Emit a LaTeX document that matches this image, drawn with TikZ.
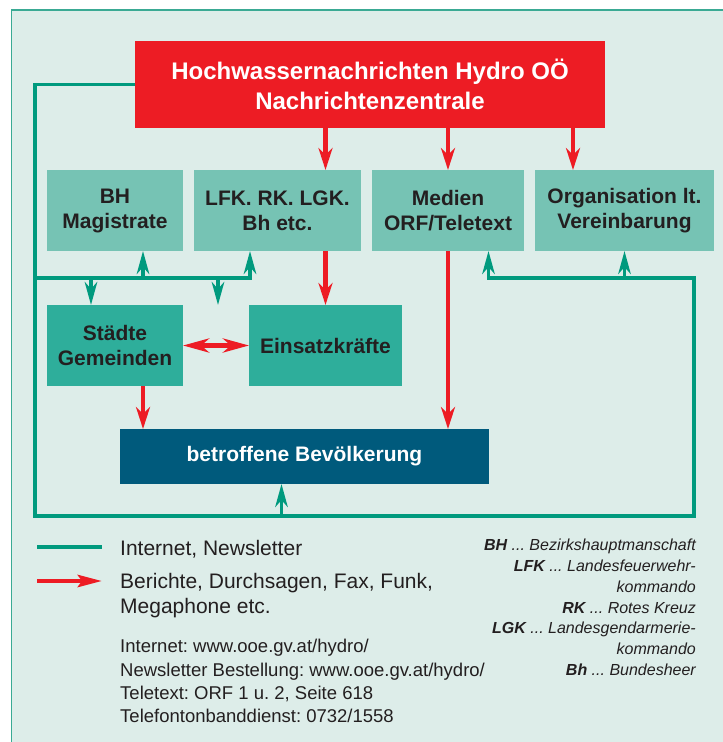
\documentclass[tikz,border=0pt]{standalone}
\usepackage{fontspec}
\setmainfont{Liberation Sans}
\usetikzlibrary{arrows.meta,calc}
\definecolor{bgc}{HTML}{DDEDE9}
\definecolor{framec}{HTML}{3AAA94}
\definecolor{lteal}{HTML}{76C3B4}
\definecolor{dteal}{HTML}{2EAE9B}
\definecolor{hqred}{HTML}{ED1C24}
\definecolor{popblue}{HTML}{005A7C}
\definecolor{glinec}{HTML}{009A7E}
\definecolor{txtc}{HTML}{231F20}
\frenchspacing
\begin{document}
\begin{tikzpicture}[x=1pt,y=-1pt,
  box/.style={draw=none,inner sep=0pt,outer sep=0pt,align=center,text=txtc,
    font=\bfseries\fontsize{21}{25}\selectfont},
  gln/.style={draw=glinec,line width=3.5pt},
  garr/.style={gln,-{Stealth[length=23pt,width=12.5pt,inset=7pt]}},
  rln/.style={draw=hqred,line width=4.5pt},
  rarr/.style={rln,-{Stealth[length=22pt,width=14pt,inset=7pt]}},
  rdbl/.style={rln,{Stealth[length=26pt,width=14pt,inset=8pt]}-{Stealth[length=26pt,width=14pt,inset=8pt]}},
  legtxt/.style={anchor=base west,inner sep=0pt,text=txtc,font=\fontsize{21}{25}\selectfont},
  urltxt/.style={anchor=base west,inner sep=0pt,text=txtc,font=\fontsize{18.5}{23}\selectfont},
  abbr/.style={anchor=base east,inner sep=0pt,text=txtc,font=\itshape\fontsize{16}{20}\selectfont}
]
\useasboundingbox (0,0) rectangle (723,742);
\clip (0,0) rectangle (723,742);
\fill[white] (0,0) rectangle (723,742);
\draw[fill=bgc,draw=framec,line width=1.4pt] (11.5,10) rectangle (780,800);

% boxes
\node[box,fill=hqred,text=white,font=\bfseries\fontsize{24}{30}\selectfont,
  minimum width=470pt,minimum height=87pt] (hq) at (370,84.5)
  {Hochwassernachrichten Hydro OÖ\\Nachrichtenzentrale};
\node[box,fill=lteal,minimum width=136pt,minimum height=81pt] (bh) at (115,210.5) {BH\\Magistrate};
\node[box,fill=lteal,minimum width=167pt,minimum height=81pt] (lfk) at (277.5,210.5) {LFK. RK. LGK.\\Bh etc.};
\node[box,fill=lteal,minimum width=152pt,minimum height=81pt] (med) at (448,210.5) {Medien\\ORF/Teletext};
\node[box,fill=lteal,minimum width=179pt,minimum height=81pt] (org) at (624.5,210.5) {Organisation lt.\\Vereinbarung};
\node[box,fill=dteal,minimum width=136pt,minimum height=81pt] (st) at (115,345.5) {Städte\\Gemeinden};
\node[box,fill=dteal,minimum width=153pt,minimum height=81pt] (ek) at (325.5,345.5) {Einsatzkräfte};
\node[box,fill=popblue,text=white,minimum width=369pt,minimum height=55pt] (pop) at (304.5,456.5) {betroffene Bevölkerung};

% coordinates for green network
\coordinate (busL) at (35,278);
\coordinate (busR) at (694,278);
\coordinate (botL) at (35,516);
\coordinate (botR) at (694,516);
\coordinate (mIn) at ($(med.south)+(40.5,0)$);
\coordinate (bhIn) at ($(bh.south)+(28,0)$);
\coordinate (lfIn) at ($(lfk.south)+(-27.5,0)$);
\coordinate (stIn) at ($(st.north)+(-24,0)$);
\coordinate (freeEnd) at (218,305);
\coordinate (popIn) at ($(pop.south)+(-23,0)$);
\coordinate (oTop) at ($(org.north west)+(38,0)$);
\coordinate (sOut) at ($(st.south)+(28,0)$);

% green connectors
\draw[garr] (hq.west) -| (botL) -- (botR) -- (busR) -| (mIn);
\draw[garr] (busR -| org.south) -- (org.south);
\draw[garr] (botL -| popIn) -- (popIn);
\draw[garr] (busL) -| (lfIn);
\draw[garr] (busL -| bhIn) -- (bhIn);
\draw[garr] (busL -| stIn) -- (stIn);
\draw[garr] (busL -| freeEnd) -- (freeEnd);

% red connectors
\draw[rarr] (hq.south -| ek.north) -- (lfk.north -| ek.north);
\draw[rarr] (hq.south -| med.north) -- (med.north);
\draw[rarr] (hq.south -| oTop) -- (oTop);
\draw[rarr] (lfk.south -| ek.north) -- (ek.north);
\draw[rarr] (med.south) -- (med.south |- pop.north);
\draw[rarr] (sOut) -- (sOut |- pop.north);
\draw[rdbl] (st.east) -- (ek.west);

% legend
\coordinate (lg1a) at (37,547);
\coordinate (lg1b) at (102,547);
\coordinate (lg2a) at (37,581);
\coordinate (lg2b) at (102,581);
\draw[gln] (lg1a) -- (lg1b);
\draw[draw=hqred,line width=4.5pt,-{Stealth[length=24pt,width=12pt,inset=4pt]}] (lg2a) -- (lg2b);
\node[legtxt] (l1) at (120,555) {Internet, Newsletter};
\node[legtxt] (l2) at (120,588.3) {Berichte, Durchsagen, Fax, Funk,};
\node[legtxt] (l3) at (120,613.7) {Megaphone etc.};
\node[urltxt] (u1) at (120,652.7) {Internet: www.ooe.gv.at/hydro/};
\node[urltxt] (u2) at (120,676) {Newsletter Bestellung: www.ooe.gv.at/hydro/};
\node[urltxt] (u3) at (120,699.3) {Teletext: ORF 1 u. 2, Seite 618};
\node[urltxt] (u4) at (120,722.7) {Telefontonbanddienst: 0732/1558};

\node[abbr] (a1) at (696,550.7) {\textbf{BH} ... Bezirkshauptmanschaft};
\node[abbr] (a2) at (696,571.5) {\textbf{LFK} ... Landesfeuerwehr-};
\node[abbr] (a3) at (696,592.3) {kommando};
\node[abbr] (a4) at (696,613.1) {\textbf{RK} ... Rotes Kreuz};
\node[abbr] (a5) at (696,633.9) {\textbf{LGK} ... Landesgendarmerie-};
\node[abbr] (a6) at (696,654.7) {kommando};
\node[abbr] (a7) at (696,675.5) {\textbf{Bh} ... Bundesheer};
\end{tikzpicture}
\end{document}
